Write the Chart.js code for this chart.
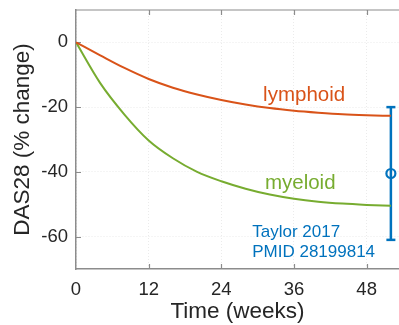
<!DOCTYPE html>
<html>
<head>
<meta charset="utf-8">
<script src="https://cdn.jsdelivr.net/npm/chart.js@4/dist/chart.umd.min.js"></script>
<style>
  html, body { margin: 0; padding: 0; background: #fff; overflow: hidden; }
  #wrap { width: 399px; height: 325px; position: relative; }
</style>
</head>
<body>
<div id="wrap"><canvas id="c"></canvas></div>
<script>
// Model trajectories of DAS28 change (%) over time, by pathotype
const weeks    = [0, 4, 8, 12, 16, 20, 24, 28, 32, 36, 40, 44, 48, 52];
const lymphoid = [0, -4.0, -7.9, -11.3, -14.0, -16.1, -17.8, -19.2, -20.3, -21.1, -21.7, -22.2, -22.5, -22.7];
const myeloid  = [0, -12.6, -22.3, -30.3, -35.8, -40.0, -42.9, -45.2, -47.0, -48.3, -49.2, -49.8, -50.2, -50.5];

// Observed cohort summary (mean and range) at week 52
const obsWeek = 52;
const obsMean = -40.5;
const obsLow  = -61;
const obsHigh = -20;

// Axis ticks
const xTicks = [0, 12, 24, 36, 48];
const yTicks = [-60, -40, -20, 0];

// In-plot text labels: [text, week, value, colour, font size]
const textLabels = [
  ['lymphoid', 30.9, -18.1, '#D95319', 20.5],
  ['myeloid', 31.2, -45.3, '#77AC30', 20.5],
  ['Taylor 2017', 29.1, -60.2, '#0072BD', 17],
  ['PMID 28199814', 29.1, -66.2, '#0072BD', 17]
];

const FONT = '"Liberation Sans", Arial, Helvetica, sans-serif';
const AXIS = '#8c8c8c';
const TEXT = '#262626';
const GRID = '#ebebeb';

const toPoints = (xs, ys) => xs.map((x, i) => ({ x: x, y: ys[i] }));

// Box frame with inward tick marks
const frameTicks = {
  id: 'frameTicks',
  beforeDatasetsDraw(chart) {
    const { ctx, chartArea: a, scales: { x, y } } = chart;
    const len = 5;
    ctx.save();
    ctx.strokeStyle = AXIS;
    ctx.lineWidth = 1.2;
    ctx.beginPath();
    ctx.moveTo(a.left, a.top);
    ctx.lineTo(a.right, a.top);
    xTicks.forEach(t => {
      if (t === 0) return;
      const px = Math.round(x.getPixelForValue(t)) + 0.5;
      ctx.moveTo(px, a.bottom); ctx.lineTo(px, a.bottom - len);
      ctx.moveTo(px, a.top); ctx.lineTo(px, a.top + len);
    });
    yTicks.forEach(t => {
      const py = Math.round(y.getPixelForValue(t)) + 0.5;
      ctx.moveTo(a.left, py); ctx.lineTo(a.left + len, py);
    });
    ctx.stroke();
    ctx.restore();
  }
};

// Text annotations placed in data coordinates
const plotText = {
  id: 'plotText',
  afterDatasetsDraw(chart) {
    const { ctx, scales: { x, y } } = chart;
    ctx.save();
    ctx.textAlign = 'left';
    ctx.textBaseline = 'alphabetic';
    textLabels.forEach(([txt, wx, vy, col, size]) => {
      ctx.fillStyle = col;
      ctx.font = size + 'px ' + FONT;
      ctx.fillText(txt, x.getPixelForValue(wx), y.getPixelForValue(vy));
    });
    ctx.restore();
  }
};

new Chart(document.getElementById('c'), {
  type: 'line',
  data: {
    datasets: [
      {
        label: 'lymphoid',
        data: toPoints(weeks, lymphoid),
        borderColor: '#D95319',
        borderWidth: 2,
        pointRadius: 0,
        cubicInterpolationMode: 'monotone',
        fill: false
      },
      {
        label: 'myeloid',
        data: toPoints(weeks, myeloid),
        borderColor: '#77AC30',
        borderWidth: 2,
        pointRadius: 0,
        cubicInterpolationMode: 'monotone',
        fill: false
      },
      {
        label: 'range',
        data: [{ x: obsWeek, y: obsHigh }, { x: obsWeek, y: obsLow }],
        borderColor: '#0072BD',
        borderWidth: 2.5,
        pointStyle: 'line',
        pointRadius: 4.5,
        pointBorderWidth: 2.5,
        pointBorderColor: '#0072BD',
        pointHoverRadius: 4.5,
        fill: false
      },
      {
        label: 'mean',
        data: [{ x: obsWeek, y: obsMean }],
        showLine: false,
        pointStyle: 'circle',
        pointRadius: 4.5,
        pointBorderWidth: 2.2,
        pointBorderColor: '#0072BD',
        pointBackgroundColor: 'rgba(0,0,0,0)',
        pointHoverRadius: 4.5
      }
    ]
  },
  options: {
    responsive: true,
    maintainAspectRatio: false,
    animation: false,
    events: [],
    layout: { autoPadding: false, padding: { top: 10, right: 0, left: 0, bottom: 0 } },
    plugins: {
      legend: { display: false },
      tooltip: { enabled: false }
    },
    scales: {
      x: {
        type: 'linear',
        min: 0,
        max: 53.34,
        afterBuildTicks: s => { s.ticks = xTicks.map(v => ({ value: v })); },
        afterFit: s => { s.height = 56; s.paddingLeft = 0; s.paddingRight = 0; },
        ticks: {
          color: TEXT,
          font: { family: FONT, size: 18.5 },
          padding: 10,
          maxRotation: 0,
          autoSkip: false
        },
        grid: { color: GRID, lineWidth: 1, drawTicks: false },
        border: { display: true, color: AXIS, width: 1.5, dash: [1, 2] },
        title: {
          display: true,
          text: 'Time (weeks)',
          color: TEXT,
          font: { family: FONT, size: 22.5 },
          padding: { top: 0, bottom: 0 }
        }
      },
      y: {
        type: 'linear',
        min: -70,
        max: 10,
        afterBuildTicks: s => { s.ticks = yTicks.map(v => ({ value: v })); },
        afterFit: s => { s.width = 76; s.paddingTop = 0; s.paddingBottom = 0; },
        ticks: {
          color: TEXT,
          font: { family: FONT, size: 18.5 },
          padding: 8,
          autoSkip: false
        },
        grid: { color: GRID, lineWidth: 1, drawTicks: false },
        border: { display: true, color: AXIS, width: 1.5, dash: [1, 2] },
        title: {
          display: true,
          text: 'DAS28 (% change)',
          color: TEXT,
          font: { family: FONT, size: 22.5 },
          padding: { top: 9, bottom: 0 }
        }
      }
    }
  },
  plugins: [frameTicks, plotText]
});
</script>
</body>
</html>
